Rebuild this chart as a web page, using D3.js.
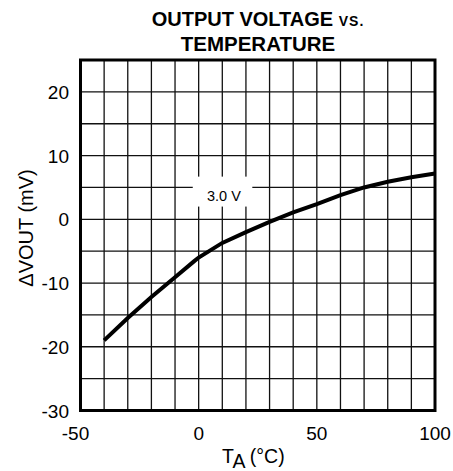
<!DOCTYPE html>
<html>
<head>
<meta charset="utf-8">
<script src="https://cdn.jsdelivr.net/npm/d3@7"></script>
<style>
	body { margin: 0; background: #fff; }
	svg { display: block; font-family: "Liberation Sans", Arial, sans-serif; }
</style>
</head>
<body>
<svg id="chart" width="453" height="471"></svg>
<script>
// data
var tempValues = [-40, -30, -20, -10, -2, 0, 10, 20, 30, 40, 50, 60, 70, 80, 90, 100];
var voltValues = [-19.0, -15.5, -12.2, -9.1, -6.6, -6.0, -3.7, -2.0, -0.4, 1.1, 2.4, 3.8, 5.0, 5.9, 6.6, 7.2];
var xTickLabels = [-50, 0, 50, 100];
var yTickLabels = [-30, -20, -10, 0, 10, 20];
var curveLabel = '3.0 V';

var svg = d3.select('#chart');

var x = d3.scaleLinear().domain([-50, 100]).range([80.5, 435]);
var y = d3.scaleLinear().domain([-30, 25]).range([410.5, 60]);

// grid
var grid = svg.append('g').attr('class', 'grid')
	.attr('stroke', '#111').attr('stroke-width', 1.3);

grid.selectAll('line.v')
	.data(d3.range(-40, 100, 10))
	.enter().append('line')
	.attr('class', 'v')
	.attr('x1', function(d) { return x(d); })
	.attr('x2', function(d) { return x(d); })
	.attr('y1', y(25)).attr('y2', y(-30));

grid.selectAll('line.h')
	.data(d3.range(-25, 25, 5))
	.enter().append('line')
	.attr('class', 'h')
	.attr('x1', x(-50)).attr('x2', x(100))
	.attr('y1', function(d) { return y(d); })
	.attr('y2', function(d) { return y(d); });

// curve
var line = d3.line()
	.x(function(d) { return x(d[0]); })
	.y(function(d) { return y(d[1]); });

svg.append('path')
	.datum(d3.zip(tempValues, voltValues))
	.attr('d', line)
	.attr('fill', 'none')
	.attr('stroke', '#000')
	.attr('stroke-width', 4);

// label box covering grid
svg.append('rect')
	.attr('x', x(-2.5)).attr('y', y(6.7))
	.attr('width', x(22.7) - x(-2.5)).attr('height', y(2) - y(6.7))
	.attr('fill', '#fff');

svg.append('text')
	.attr('x', x(10.7)).attr('y', y(2.9))
	.attr('text-anchor', 'middle')
	.attr('font-size', 14.5)
	.text(curveLabel);

// border
svg.append('rect')
	.attr('x', x(-50)).attr('y', y(25))
	.attr('width', x(100) - x(-50)).attr('height', y(-30) - y(25))
	.attr('fill', 'none').attr('stroke', '#000').attr('stroke-width', 3);

// tick labels
svg.selectAll('text.xtick')
	.data(xTickLabels)
	.enter().append('text')
	.attr('class', 'xtick')
	.attr('x', function(d) { return x(d) - (d < 0 ? 5 : 0); })
	.attr('y', 440)
	.attr('text-anchor', 'middle')
	.attr('font-size', 19)
	.text(function(d) { return d; });

svg.selectAll('text.ytick')
	.data(yTickLabels)
	.enter().append('text')
	.attr('class', 'ytick')
	.attr('x', 69)
	.attr('y', function(d) { return y(d) + 7; })
	.attr('text-anchor', 'end')
	.attr('font-size', 19)
	.text(function(d) { return d; });

// axis titles
var xTitle = svg.append('text')
	.attr('x', 222).attr('y', 463)
	.attr('font-size', 19.5);
xTitle.append('tspan').text('T');
xTitle.append('tspan').attr('dy', 5).text('A');
xTitle.append('tspan').attr('dy', -5).text(' (\u00B0C)');

svg.append('text')
	.attr('transform', 'translate(33,228) rotate(-90)')
	.attr('text-anchor', 'middle')
	.attr('font-size', 20)
	.text('\u0394VOUT (mV)');

// chart title
var title = svg.append('g')
	.attr('font-weight', 'bold')
	.attr('text-anchor', 'middle');

var t1 = title.append('text')
	.attr('x', 258).attr('y', 26)
	.attr('font-size', 20);
t1.append('tspan').text('OUTPUT VOLTAGE ');
t1.append('tspan').attr('font-size', 14).attr('letter-spacing', 1).text('VS.');

title.append('text')
	.attr('x', 258).attr('y', 50.5)
	.attr('font-size', 20.5)
	.text('TEMPERATURE');
</script>
</body>
</html>
